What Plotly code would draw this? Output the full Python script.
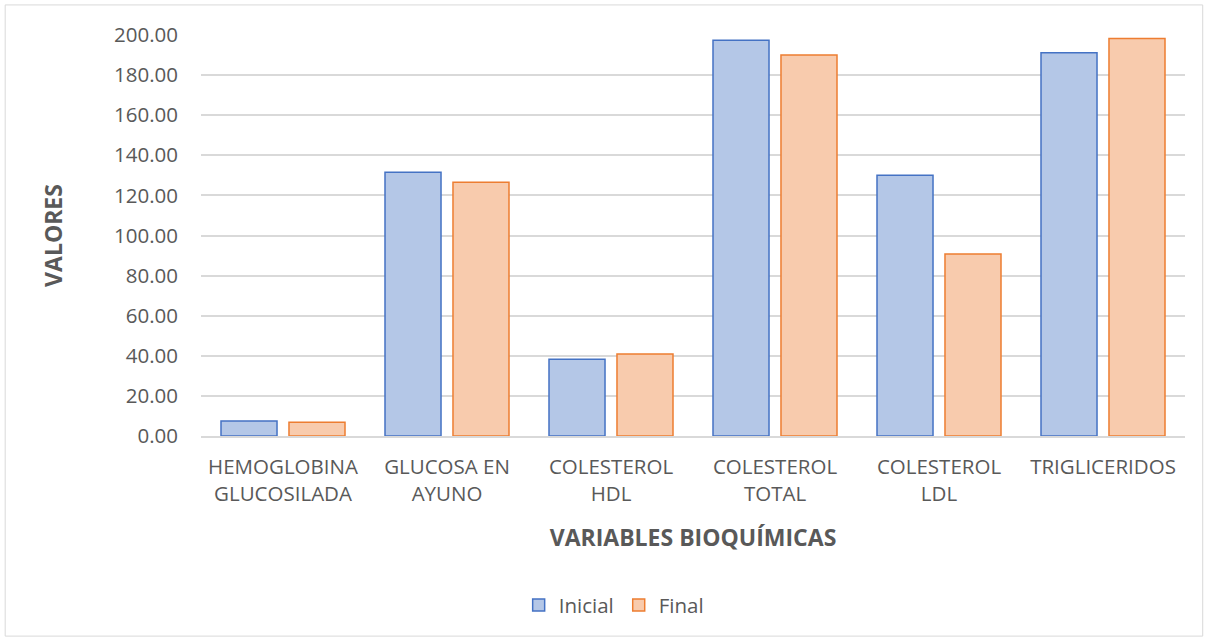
import plotly.graph_objects as go

categories = ["HEMOGLOBINA<br>GLUCOSILADA", "GLUCOSA EN<br>AYUNO", "COLESTEROL<br>HDL",
              "COLESTEROL<br>TOTAL", "COLESTEROL<br>LDL", "TRIGLICERIDOS"]
inicial = [7.5, 131.6, 38.3, 197.4, 130.1, 191.2]
final = [6.9, 126.6, 40.9, 190.0, 90.8, 198.3]
y_ticks = [0, 20, 40, 60, 80, 100, 120, 140, 160, 180, 200]

FONT = "Open Sans"
GREY = "#595959"
TS = 20.5

fig = go.Figure()
fig.add_trace(go.Bar(name="Inicial", x=categories, y=inicial,
                     marker=dict(color="#b4c7e7", line=dict(color="#4472c4", width=1.5))))
fig.add_trace(go.Bar(name="Final", x=categories, y=final,
                     marker=dict(color="#f8cbad", line=dict(color="#ed7d31", width=1.5))))

fig.update_layout(
    width=1208, height=641,
    margin=dict(l=201, r=23, t=35, b=205),
    paper_bgcolor="white", plot_bgcolor="white",
    barmode="group", bargap=0.171, bargroupgap=0.176,
    font=dict(family=FONT, size=TS, color=GREY),
    showlegend=True,
    legend=dict(orientation="h", xref="container", yref="container",
                x=0.508, xanchor="center", y=0.056, yanchor="middle",
                font=dict(size=TS, color=GREY), traceorder="normal",
                itemwidth=30),
    xaxis=dict(showgrid=False, showline=True, linecolor="#d9d9d9", linewidth=1.5,
               ticks="", tickfont=dict(size=TS, color=GREY),
               ticklabelstandoff=12,
               title=dict(text="<b>VARIABLES BIOQUÍMICAS</b>", standoff=24,
                          font=dict(size=23, color=GREY))),
    yaxis=dict(range=[0, 200], tickvals=y_ticks, tickformat=".2f",
               showgrid=True, gridcolor="#d9d9d9", gridwidth=1.5,
               zeroline=False, showline=False, ticks="",
               ticklabelstandoff=22,
               tickfont=dict(size=TS, color=GREY),
               title=dict(text="<b>VALORES</b>", standoff=44,
                          font=dict(size=23, color=GREY))),
)

fig.add_shape(type="rect", xref="paper", yref="paper",
              x0=-0.199, x1=1.018, y0=-0.499, y1=1.075,
              line=dict(color="#d9d9d9", width=1), fillcolor="rgba(0,0,0,0)", layer="below")

fig.write_html("out.html", config={"displayModeBar": False},
               post_script="document.body.style.margin='0';document.body.style.overflow='hidden';")
